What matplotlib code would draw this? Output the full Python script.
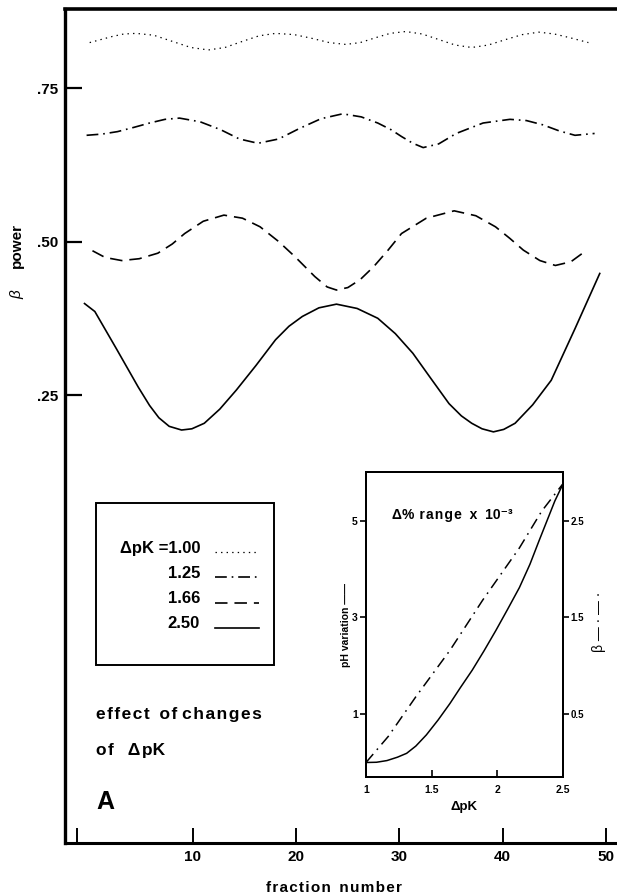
import matplotlib
matplotlib.use("Agg")
import matplotlib.pyplot as plt
from matplotlib.patches import Rectangle
from matplotlib.lines import Line2D

plt.rcParams['font.family'] = ['Liberation Sans', 'DejaVu Sans']
plt.rcParams['lines.scale_dashes'] = False

# --- data ---
# beta power vs fraction number, one series per delta pK
x_100 = [0, 1.1, 2.2, 3.3, 4.5, 6.2, 8, 9.8, 11.5, 13.1, 14.8, 16.4, 18, 19.8, 21.5, 23.2, 24.8,
         26.2, 27.7, 29.1, 30.6, 32.2, 33.8, 35.4, 37, 38.6, 40.3, 41.9, 43.5, 45, 46.5, 48.3]
y_100 = [.824, .829, .834, .838, .839, .836, .826, .816, .812, .816, .826, .835, .839, .837, .831, .824, .821,
         .824, .832, .839, .842, .838, .829, .820, .816, .820, .829, .837, .841, .838, .832, .824]

x_125 = [-0.3, 1.2, 2.7, 4.3, 5.8, 7.3, 8.7, 10.7, 12.7, 14.5, 16.3, 18.3, 20.3, 22.4, 24.5, 26.3,
         27.9, 29.2, 30.2, 31.3, 32.3, 33.8, 35.5, 38.1, 40.7, 42.3, 43.9, 45.5, 47, 48.9]
y_125 = [.673, .675, .679, .686, .693, .699, .701, .695, .682, .667, .660, .667, .684, .700, .708, .703,
         .693, .682, .671, .660, .653, .659, .676, .693, .699, .697, .690, .680, .673, .676]

x_166 = [0.27, 1.5, 3.1, 4.8, 6.6, 8.0, 9.2, 11.0, 13.0, 14.8, 16.5, 18.3, 19.9, 21.8, 23.0, 23.9,
         25.0, 26.2, 27.5, 28.9, 30.2, 32.6, 35.3, 37.4, 39.3, 40.7, 42.0, 43.6, 45.1, 46.6, 47.9]
y_166 = [.485, .474, .469, .472, .481, .496, .513, .533, .543, .538, .524, .500, .475, .443, .426, .421,
         .425, .438, .459, .486, .513, .538, .550, .542, .524, .505, .486, .469, .461, .467, .483]

x_250 = [-0.5, 0.5, 2.6, 4.7, 5.8, 6.7, 7.7, 8.9, 9.9, 11.1, 12.6, 14.2, 16.1, 18.0, 19.3, 20.6, 22.2,
         23.9, 25.9, 27.9, 29.6, 31.3, 33.0, 34.8, 36.0, 37.0, 38.0, 39.1, 40.1, 41.2, 42.9, 44.7,
         47.0, 49.4]
y_250 = [.399, .386, .325, .263, .233, .213, .199, .193, .195, .204, .227, .258, .298, .340, .362, .378, .392,
         .398, .391, .375, .350, .318, .278, .236, .216, .204, .195, .190, .194, .204, .234, .274,
         .358, .448]

dpk_labels = ['\u0394pK =1.00', '1.25', '1.66', '2.50']
xticks = [-1.2, 10, 20, 30, 40, 50]
xticklabels = ['', '10', '20', '30', '40', '50']
yticks = [.25, .50, .75]
yticklabels = ['.25', '.50', '.75']

# inset: pH variation (left axis) and beta (right axis) vs delta pK
ins_x_ph = [1.0, 1.08, 1.16, 1.24, 1.31, 1.38, 1.46, 1.55, 1.64, 1.72, 1.81, 1.9, 1.99, 2.08,
            2.17, 2.25, 2.32, 2.38, 2.44, 2.5]
ins_y_ph = [0.0, 0.005, 0.04, 0.11, 0.19, 0.34, 0.57, 0.88, 1.22, 1.55, 1.91, 2.31, 2.73, 3.17,
            3.62, 4.1, 4.59, 5.0, 5.41, 5.75]
ins_x_beta = [1.0, 1.17, 1.38, 1.64, 1.89, 2.17, 2.34, 2.5]
ins_y_beta = [0.0, 0.27, 0.68, 1.16, 1.68, 2.22, 2.60, 2.88]
ins_xticks = [1, 1.5, 2, 2.5]
ins_xticklabels = ['1', '1.5', '2', '2.5']
ins_lticks = [1, 3, 5]
ins_rticks = [0.5, 1.5, 2.5]

W, H = 617, 896


def fx(x):
    return x / W


def fy(y):
    return 1 - y / H


fig = plt.figure(figsize=(W / 100, H / 100), dpi=100)

# main axes
ax = fig.add_axes([fx(65), fy(843), fx(617 - 65), (843 - 9) / H])
ax.set_xlim(-2.39, 51.07)
ax.set_ylim(-0.4796, 0.8787)

styles = [
    dict(linestyle=(0, (1.0, 3.0)), lw=0.9),
    dict(linestyle=(0, (8.5, 3.5, 1.2, 3.5)), lw=1.2),
    dict(linestyle=(0, (9, 5)), lw=1.2),
    dict(linestyle='-', lw=1.2),
]
for (xs, ys), st in zip([(x_100, y_100), (x_125, y_125), (x_166, y_166), (x_250, y_250)], styles):
    ax.plot(xs, ys, color='black', **st)

ax.spines['right'].set_visible(False)
ax.spines['left'].set_linewidth(2.4)
ax.spines['top'].set_linewidth(2.6)
ax.spines['bottom'].set_linewidth(2.2)
ax.set_xticks(xticks)
ax.set_xticklabels(xticklabels, fontsize=11, fontweight='bold')
ax.set_yticks(yticks)
ax.set_yticklabels(yticklabels, fontsize=11, fontweight='bold')
ax.tick_params(axis='x', direction='in', length=11, width=1.4, pad=5)
ax.tick_params(axis='y', direction='in', length=12, width=1.6, pad=5)

hs = '\u200a'
fig.text(fx(334), fy(888), hs.join('fraction') + '  ' + hs.join('number'),
         ha='center', va='center', fontsize=11, fontweight='bold')
fig.text(fx(17), fy(246), 'power', rotation=90, ha='center', va='center',
         fontsize=11, fontweight='bold')
fig.text(fx(17), fy(295), '\u03b2', rotation=90, ha='center', va='center',
         fontsize=11, style='italic')

# legend box drawn by hand
fig.patches.append(Rectangle((fx(96), fy(665)), fx(274 - 96), (665 - 503) / H,
                             transform=fig.transFigure, fill=False,
                             edgecolor='black', lw=1.4))
for i, (lab, st) in enumerate(zip(dpk_labels, styles)):
    yy = 548 + i * 25.3
    fig.text(fx(200), fy(yy), lab, ha='right', va='center', fontsize=12, fontweight='bold')
    fig.lines.append(Line2D([fx(215), fx(259)], [fy(yy + 4), fy(yy + 4)],
                            transform=fig.transFigure, color='black',
                            linestyle=st['linestyle'], lw=st['lw']))

fig.text(fx(96), fy(715), hs.join('effect') + '  ' + hs.join('of') + ' ' + hs.join('changes'),
         ha='left', va='center', fontsize=12.5, fontweight='bold')
fig.text(fx(96), fy(750), hs.join('of') + '   \u0394' + hs + 'pK',
         ha='left', va='center', fontsize=12.5, fontweight='bold')
fig.text(fx(96), fy(802), 'A', ha='left', va='center', fontsize=18, fontweight='bold')

# inset
ia = fig.add_axes([fx(366), fy(777), fx(562.7 - 366), (777 - 472) / H])
ia.set_xlim(1, 2.5)
ia.set_ylim(-0.3, 6.01)
ia.plot(ins_x_ph, ins_y_ph, color='black', lw=1.1)
for s in ia.spines.values():
    s.set_linewidth(1.4)
ia.set_xticks(ins_xticks)
ia.set_xticklabels(ins_xticklabels, fontsize=7.5, fontweight='bold')
ia.set_yticks(ins_lticks)
ia.set_yticklabels([str(t) for t in ins_lticks], fontsize=7.5, fontweight='bold')
ia.tick_params(axis='x', direction='in', length=5, width=1.2, pad=6)
ia.tick_params(axis='y', direction='out', length=4, width=1.2, pad=2)
ia.set_xlabel('\u0394pK', fontsize=9.5, fontweight='bold', labelpad=4)

ib = ia.twinx()
ib.set_ylim(-0.15, 3.005)
ib.plot(ins_x_beta, ins_y_beta, color='black', lw=1.1, linestyle=(0, (8, 4, 1.2, 4)))
ib.set_yticks(ins_rticks)
ib.set_yticklabels([str(t) for t in ins_rticks], fontsize=7, fontweight='bold')
ib.tick_params(axis='y', direction='out', length=4, width=1.2, pad=1.5)
for s in ib.spines.values():
    s.set_linewidth(1.4)

ia.text(0.13, 0.86, '\u0394%' + hs + ' ' + hs.join('range') + '  x  10\u207b\u00b3',
        transform=ia.transAxes, ha='left', va='center', fontsize=10, fontweight='bold')

fig.text(fx(346), fy(625), 'pH variation \u2014\u2014', rotation=90, ha='center', va='center',
         fontsize=7.5, fontweight='bold')
fig.text(fx(599), fy(622), '\u03b2 \u2014 \u00b7 \u2014 \u00b7', rotation=90, ha='center',
         va='center', fontsize=10)

fig.savefig('out.png', dpi=100)
